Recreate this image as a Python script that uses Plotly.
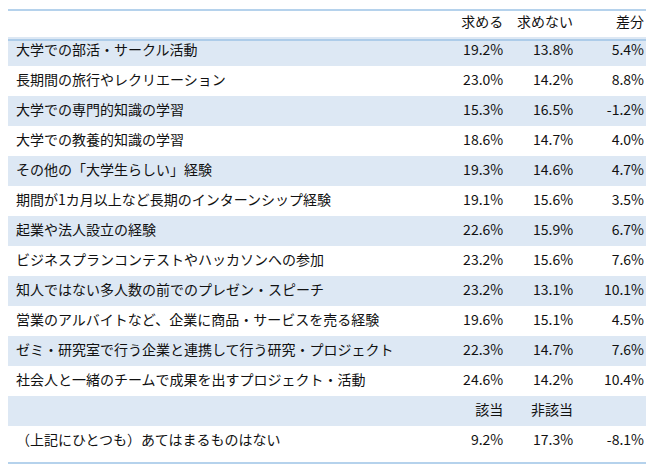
import plotly.graph_objects as go

# Data
items = ['大学での部活・サークル活動', '長期間の旅行やレクリエーション', '大学での専門的知識の学習',
         '大学での教養的知識の学習', 'その他の「大学生らしい」経験',
         '期間が1カ月以上など長期のインターンシップ経験', '起業や法人設立の経験',
         'ビジネスプランコンテストやハッカソンへの参加', '知人ではない多人数の前でのプレゼン・スピーチ',
         '営業のアルバイトなど、企業に商品・サービスを売る経験',
         'ゼミ・研究室で行う企業と連携して行う研究・プロジェクト',
         '社会人と一緒のチームで成果を出すプロジェクト・活動',
         '', '（上記にひとつも）あてはまるものはない']
motomeru = ['19.2%', '23.0%', '15.3%', '18.6%', '19.3%', '19.1%', '22.6%', '23.2%', '23.2%',
            '19.6%', '22.3%', '24.6%', '該当', '9.2%']
motomenai = ['13.8%', '14.2%', '16.5%', '14.7%', '14.6%', '15.6%', '15.9%', '15.6%', '13.1%',
             '15.1%', '14.7%', '14.2%', '非該当', '17.3%']
sabun = ['5.4%', '8.8%', '-1.2%', '4.0%', '4.7%', '3.5%', '6.7%', '7.6%', '10.1%',
         '4.5%', '7.6%', '10.4%', '', '-8.1%']
headers = ['', '求める', '求めない', '差分']

shade = '#DDE8F4'
fills = [shade if i % 2 == 0 else 'white' for i in range(len(items))]
fills[12] = shade
fills[13] = 'white'

font = dict(family='Noto Sans CJK JP', size=14, color='#111111')

fig = go.Figure(go.Table(
    columnwidth=[430, 74, 70, 71],
    header=dict(values=headers, height=28, fill_color='white', line_color='white',
                align=['left', 'right', 'right', 'right'], font=font),
    cells=dict(values=[items, motomeru, motomenai, sabun], height=30,
               fill_color=[fills] * 4, line_color=[fills] * 4,
               align=['left', 'right', 'right', 'right'], font=font),
    domain=dict(x=[0, 0.986], y=[0, 1])
))

line = dict(color='#9DC3E6', width=1.5)
H = 464
for py in [2, 32, 455]:
    fig.add_shape(type='line', xref='paper', yref='paper', x0=0, x1=1,
                  y0=1 - py / H, y1=1 - py / H, line=line)

fig.update_layout(width=654, height=464, margin=dict(l=0, r=0, t=0, b=0),
                  paper_bgcolor='white')
fig.write_html('out.html')
